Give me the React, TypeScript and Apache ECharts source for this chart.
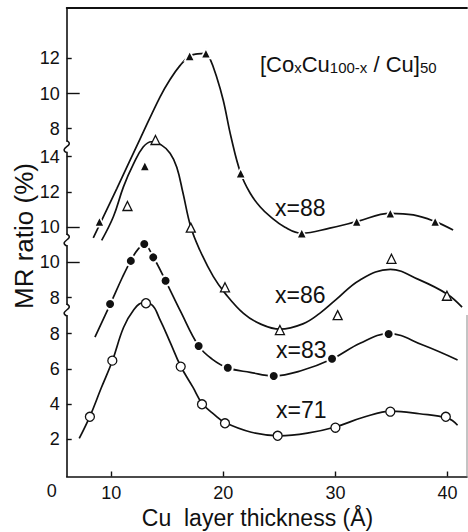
import React, { useEffect, useRef } from "react";
import * as echarts from "echarts";

// ---------- data (Cu layer thickness in Å, MR ratio in %) ----------
const seriesNames = ["x=88", "x=86", "x=83", "x=71"];

// measured points
const thick88 = [8.95, 13.0, 17.0, 18.45, 21.55, 27.0, 31.9, 34.9, 38.9];
const mr88 = [2.72, 5.88, 12.13, 12.28, 5.47, 2.06, 2.72, 3.19, 2.72];
const thick86 = [11.45, 13.95, 17.1, 20.15, 25.05, 30.2, 35.0, 39.95];
const mr86 = [11.2, 14.95, 9.97, 6.58, 4.15, 5.0, 8.2, 6.1];
const thick83 = [9.9, 11.75, 12.95, 13.75, 14.85, 17.8, 20.4, 24.5, 29.7, 34.75];
const mr83 = [7.63, 10.08, 11.04, 10.28, 8.95, 5.24, 4.01, 3.54, 4.52, 5.93];
const thick71 = [8.1, 10.1, 13.1, 16.2, 18.1, 20.15, 24.85, 30.0, 34.9, 39.85];
const mr71 = [3.28, 6.47, 9.73, 6.13, 3.99, 2.91, 2.2, 2.66, 3.57, 3.28];

// guide-to-the-eye curves
const fit88T = [8.4, 10.5, 12.6, 14.35, 15.25, 16.15, 17.0, 17.7, 18.45, 18.8, 19.4, 20.0, 20.7, 21.55, 22.4, 23.3, 24.2, 25.5, 27.0, 29.5, 31.9, 34.9, 36.95, 38.9, 40.5];
const fit88V = [1.8, 4.6, 7.45, 9.8, 10.8, 11.6, 12.13, 12.25, 12.28, 12.0, 10.95, 9.6, 7.5, 5.47, 4.33, 3.55, 3.0, 2.4, 2.06, 2.35, 2.72, 3.19, 3.1, 2.72, 2.24];
const fit86T = [9.15, 10.2, 11.1, 12.0, 12.85, 13.6, 14.4, 15.25, 15.85, 16.4, 17.1, 17.9, 19.1, 20.15, 21.8, 23.3, 25.05, 27.1, 28.6, 30.0, 32.2, 34.9, 37.5, 39.95, 41.3];
const fit86V = [9.25, 10.6, 12.3, 13.6, 14.55, 14.85, 14.7, 14.2, 13.4, 11.95, 10.0, 8.7, 7.2, 6.25, 5.1, 4.5, 4.2, 4.5, 5.1, 5.85, 7.0, 7.6, 7.0, 6.2, 5.45];
const fit83T = [8.55, 9.9, 11.0, 11.75, 12.4, 12.95, 13.75, 14.85, 16.2, 17.8, 19.0, 20.4, 22.4, 24.5, 27.0, 29.7, 32.2, 34.75, 37.8, 40.9];
const fit83V = [5.75, 7.6, 9.15, 10.1, 10.75, 11.0, 10.3, 8.95, 7.2, 5.25, 4.5, 4.0, 3.75, 3.55, 3.85, 4.5, 5.4, 5.95, 5.3, 4.45];
const fit71T = [7.15, 8.1, 9.1, 10.1, 11.1, 12.0, 12.8, 13.6, 14.35, 15.3, 16.2, 17.3, 18.1, 19.2, 20.15, 22.5, 25.0, 27.5, 30.0, 32.5, 35.0, 37.5, 40.0, 40.9];
const fit71V = [2.05, 3.3, 4.9, 6.45, 8.35, 9.35, 9.75, 9.65, 8.8, 7.45, 6.15, 4.95, 4.05, 3.4, 2.95, 2.4, 2.2, 2.35, 2.7, 3.25, 3.6, 3.45, 3.2, 2.8];

// tick labels
const xTicks = [10, 20, 30, 40];
const yTicks88 = [8, 10, 12];
const yTicks86 = [10, 12, 14];
const yTicks83 = [8, 10];
const yTicks71 = [2, 4, 6, 8];

// ---------- layout ----------
const W = 468;
const H = 532;
const FONT = "'Liberation Sans', Arial, Helvetica, sans-serif";
const GL = 66.7;
const GT = 8;
const GR = 1;
const GB = 55.5;
const BOTTOM_PY = H - GB;
const K = 17.6; // px per % on every segment
const X_MIN = 6.03;
const X_MAX = 41.74;
// anchor: value that sits at pixel row py
const anchors = [
  { v: 12, py: 58.3 },
  { v: 14, py: 156.7 },
  { v: 10, py: 262.3 },
  { v: 2, py: 439.3 },
];
const breaksPy = [146.7, 240, 310];

const zip = (a: number[], b: number[]) => a.map((v, i) => [v, b[i]]);

export default function App() {
  const ref = useRef<HTMLDivElement>(null);
  useEffect(() => {
    document.body.style.margin = "0";
    if (!ref.current) return;
    const chart = echarts.init(ref.current, undefined, { renderer: "svg" });

    const ranges = anchors.map((a) => ({
      min: a.v - (BOTTOM_PY - a.py) / K,
      max: a.v + (a.py - GT) / K,
    }));
    const labelSets = [yTicks88, yTicks86, yTicks83, yTicks71];

    const yAxes: any[] = [];
    labelSets.forEach((labels, i) => {
      const shortTicks = labels.filter((v) => v !== 10);
      yAxes.push({
        type: "value",
        position: "left",
        min: ranges[i].min,
        max: ranges[i].max,
        axisLine: i === 3 ? { show: true, onZero: false, lineStyle: { color: "#111", width: 1.6 } } : { show: false },
        splitLine: { show: false },
        axisTick: { show: true, inside: true, length: 5, customValues: shortTicks, lineStyle: { color: "#111", width: 1.4 } },
        axisLabel: { customValues: labels, fontSize: 18, color: "#111", fontFamily: FONT, margin: 7 },
      });
    });
    // long ticks at the "10" marks
    labelSets.forEach((labels, i) => {
      if (!labels.includes(10)) return;
      yAxes.push({
        type: "value",
        position: "left",
        min: ranges[i].min,
        max: ranges[i].max,
        axisLine: { show: false },
        splitLine: { show: false },
        axisLabel: { show: false },
        axisTick: { show: true, inside: true, length: 13, customValues: [10], lineStyle: { color: "#111", width: 1.4 } },
      });
    });

    const pts = [zip(thick88, mr88), zip(thick86, mr86), zip(thick83, mr83), zip(thick71, mr71)];
    const fits = [zip(fit88T, fit88V), zip(fit86T, fit86V), zip(fit83T, fit83V), zip(fit71T, fit71V)];
    const markerStyles = [
      { symbol: "triangle", size: 10, color: "#111", border: "#fff", bw: 1.6 },
      { symbol: "triangle", size: 9, color: "#fff", border: "#111", bw: 1.3 },
      { symbol: "circle", size: 10, color: "#111", border: "#fff", bw: 2 },
      { symbol: "circle", size: 9, color: "#fff", border: "#111", bw: 1.3 },
    ];

    const series: any[] = [];
    seriesNames.forEach((name, i) => {
      series.push({
        name: name + " fit",
        type: "line",
        yAxisIndex: i,
        data: fits[i],
        smooth: 0.4,
        symbol: "none",
        lineStyle: { color: "#111", width: 1.7 },
        z: 2,
        silent: true,
      });
      series.push({
        name,
        type: "scatter",
        yAxisIndex: i,
        data: pts[i],
        symbol: markerStyles[i].symbol,
        symbolSize: markerStyles[i].size,
        itemStyle: { color: markerStyles[i].color, borderColor: markerStyles[i].border, borderWidth: markerStyles[i].bw, opacity: 1 },
        z: 5,
      });
    });

    const graphic: any[] = [];
    breaksPy.forEach((py) => {
      graphic.push({ type: "rect", z: 100, shape: { x: GL - 4, y: py - 5, width: 8, height: 10 }, style: { fill: "#fff" } });
      graphic.push({
        type: "bezierCurve",
        z: 101,
        shape: { x1: GL, y1: py - 6, cpx1: GL + 9, cpy1: py - 1, cpx2: GL - 9, cpy2: py + 1, x2: GL, y2: py + 6 },
        style: { stroke: "#111", lineWidth: 1.5, fill: "none" },
      });
    });
    graphic.push({ type: "line", z: 50, shape: { x1: W - GR, y1: 315, x2: W - GR, y2: BOTTOM_PY }, style: { stroke: "#888", lineWidth: 1 } });
    const labelPos = [
      { x: 275, y: 207.5 },
      { x: 275, y: 294.5 },
      { x: 276, y: 349.5 },
      { x: 276, y: 409.5 },
    ];
    seriesNames.forEach((name, i) => {
      graphic.push({
        type: "text",
        z: 60,
        x: labelPos[i].x,
        y: labelPos[i].y,
        style: { text: name, fontSize: 23, fontFamily: FONT, fill: "#111", align: "left", verticalAlign: "middle" },
      });
    });
    graphic.push({
      type: "text",
      z: 60,
      x: 260,
      y: 64,
      style: {
        text: "[Co{s|x}Cu{s|100-x} / Cu]{s|50}",
        fontSize: 22,
        lineHeight: 22,
        fontFamily: FONT,
        fill: "#111",
        align: "left",
        verticalAlign: "middle",
        rich: { s: { fontSize: 15, lineHeight: 6, verticalAlign: "bottom", fontFamily: FONT, fill: "#111" } },
      },
    });
    graphic.push({
      type: "text",
      z: 60,
      x: 24,
      y: 236,
      rotation: Math.PI / 2,
      style: { text: "MR ratio (%)", fontSize: 26, fontFamily: FONT, fill: "#111", align: "center", verticalAlign: "middle" },
    });
    graphic.push({
      type: "text",
      z: 60,
      x: 257.5,
      y: 518,
      style: { text: "Cu\u00a0 layer thickness (Å)", fontSize: 23, fontFamily: FONT, fill: "#111", align: "center", verticalAlign: "middle" },
    });
    graphic.push({
      type: "text",
      z: 60,
      x: 51.7,
      y: 491,
      style: { text: "0", fontSize: 18, fontFamily: FONT, fill: "#111", align: "center", verticalAlign: "middle" },
    });

    chart.setOption({
      animation: false,
      grid: { left: GL, top: GT, right: GR, bottom: GB, containLabel: false },
      xAxis: [
        {
          type: "value",
          min: X_MIN,
          max: X_MAX,
          position: "bottom",
          axisLine: { show: true, onZero: false, lineStyle: { color: "#111", width: 1.6 } },
          splitLine: { show: false },
          axisTick: { show: true, inside: true, length: 5, customValues: xTicks, lineStyle: { color: "#111", width: 1.4 } },
          axisLabel: { customValues: xTicks, fontSize: 18, color: "#111", fontFamily: FONT, margin: 7 },
        },
        {
          type: "value",
          min: X_MIN,
          max: X_MAX,
          position: "top",
          axisLine: { show: true, onZero: false, lineStyle: { color: "#111", width: 1.8 } },
          splitLine: { show: false },
          axisTick: { show: false },
          axisLabel: { show: false },
        },
      ],
      yAxis: yAxes,
      series,
      graphic,
    });
    return () => chart.dispose();
  }, []);
  return <div ref={ref} style={{ width: W, height: H }} />;
}
